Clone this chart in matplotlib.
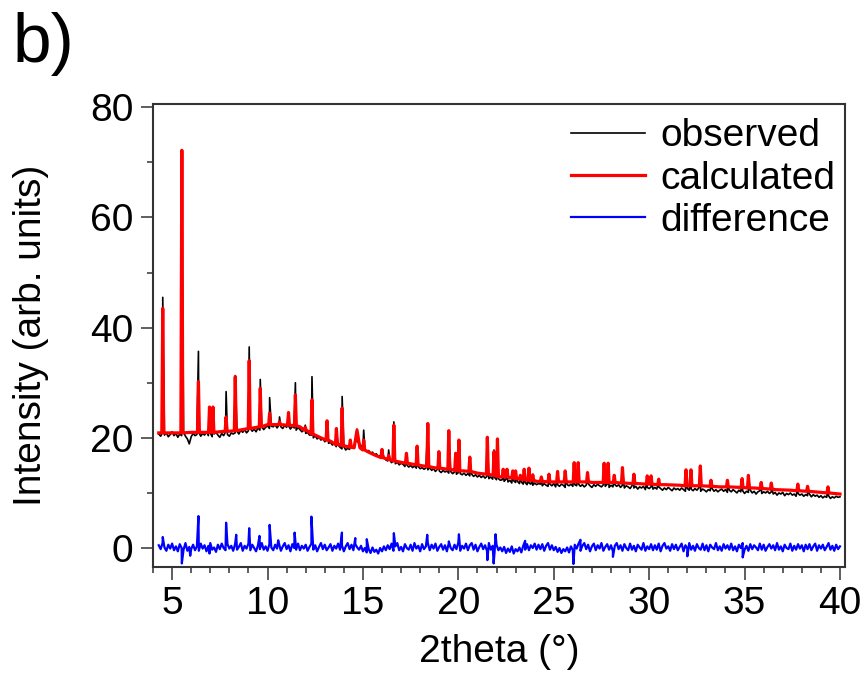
import numpy as np
import matplotlib.pyplot as plt
from matplotlib.ticker import MultipleLocator

plt.rcParams["font.family"] = ["Liberation Sans", "DejaVu Sans"]

# observed counts on the 0.1 deg scan grid starting at 4.3 deg (20 steps per row)
scan_start = 4.3
scan_step = 0.1
obs_counts = [
    20.7, 20.3, 21.0, 20.5, 20.9, 20.2, 20.6, 21.1, 20.4, 20.8, 20.1, 20.7, 20.4, 21.0, 20.3, 19.8, 18.9, 20.2, 20.8, 20.4,
    20.6, 21.0, 20.3, 20.8, 20.5, 21.1, 20.4, 20.9, 20.2, 20.7, 21.0, 20.5, 20.1, 20.8, 20.4, 21.1, 20.6, 20.3, 20.9, 20.7,
    20.9, 21.2, 20.7, 21.4, 21.0, 21.5, 20.9, 21.3, 21.7, 21.2, 21.6, 21.1, 21.8, 21.4, 22.0, 21.5, 21.9, 22.2, 21.7, 22.1,
    22.0, 22.4, 21.8, 22.3, 22.0, 21.7, 22.3, 21.9, 22.2, 21.6, 22.1, 21.8, 21.4, 21.9, 21.5, 21.1, 21.4, 20.8, 21.0, 20.5,
    20.5, 20.0, 20.4, 19.8, 20.1, 19.6, 19.9, 19.3, 19.6, 19.0, 19.2, 18.7, 19.0, 18.4, 18.7, 18.3, 18.0, 18.4, 17.8, 18.1,
    17.9, 18.2, 18.5, 19.1, 19.4, 19.0, 18.6, 18.1, 17.9, 17.5, 17.7, 17.2, 17.4, 16.9, 17.1, 16.6, 16.8, 16.3, 16.5, 16.0,
    15.8, 16.0, 15.5, 15.8, 15.3, 15.6, 15.1, 15.4, 15.2, 14.8, 15.1, 14.7, 15.0, 14.6, 14.9, 14.5, 14.8, 14.4, 14.6, 14.3,
    14.5, 14.2, 14.6, 14.1, 14.4, 13.9, 14.3, 14.0, 13.7, 14.1, 13.8, 14.0, 13.6, 13.9, 13.5, 13.8, 13.4, 13.7, 13.5, 13.3,
    13.6, 13.2, 13.5, 13.1, 13.4, 13.0, 13.3, 12.9, 13.2, 12.8, 13.1, 12.7, 13.0, 12.6, 12.9, 12.5, 12.8, 12.4, 12.6, 12.3,
    12.4, 12.1, 12.5, 12.0, 12.3, 11.8, 12.2, 11.9, 12.1, 11.7, 12.0, 11.6, 11.9, 11.5, 11.8, 11.6, 11.4, 11.8, 11.5, 11.7,
    11.6, 11.3, 11.7, 11.4, 11.2, 11.6, 11.3, 11.7, 11.1, 11.5, 11.2, 11.6, 11.4, 11.0, 11.5, 11.3, 11.6, 11.2, 11.5, 11.3,
    11.6, 11.2, 11.5, 11.1, 11.4, 11.7, 11.3, 11.0, 11.5, 11.2, 11.6, 11.3, 11.1, 11.5, 11.2, 11.6, 11.0, 11.4, 11.1, 11.5,
    11.2, 11.5, 11.0, 11.4, 10.9, 11.3, 11.1, 10.8, 11.3, 10.9, 11.2, 10.7, 11.1, 10.9, 11.2, 10.6, 11.0, 10.8, 11.1, 10.7,
    11.0, 10.7, 11.1, 10.8, 10.5, 10.9, 10.6, 11.0, 10.7, 10.4, 10.9, 10.6, 10.8, 10.5, 10.9, 10.6, 10.3, 10.8, 10.5, 10.7,
    10.4, 10.8, 10.5, 10.9, 10.3, 10.7, 10.5, 10.2, 10.6, 10.4, 10.8, 10.3, 10.6, 10.2, 10.5, 10.7, 10.3, 10.6, 10.1, 10.5,
    10.2, 10.6, 10.3, 10.0, 10.5, 10.2, 10.4, 9.9, 10.3, 10.1, 10.5, 10.0, 10.3, 9.8, 10.2, 10.4, 9.9, 10.2, 10.0, 10.3,
    9.9, 10.2, 9.8, 10.1, 9.6, 10.0, 9.8, 10.1, 9.5, 9.9, 9.7, 10.0, 9.6, 9.8, 9.4, 9.9, 9.6, 9.8, 9.4, 9.7,
    9.5, 9.8, 9.3, 9.7, 9.4, 9.6, 9.2, 9.5, 9.1, 9.4, 9.2, 9.5, 9.0, 9.3, 9.1, 9.4, 9.2, 9.3,
]

# obs - calc on the same grid
diff_counts = [
    0.5, -0.2, 0.9, 0.1, -0.5, 0.6, -0.1, 0.8, -0.4, 0.3, -0.6, 0.7, 0.0, -0.3, 0.9, -0.5, 0.2, -0.2, 0.6, -0.4,
    0.3, -0.5, 0.8, -0.1, 0.5, -0.6, 0.4, 0.9, -0.3, 0.1, -0.7, 0.6, -0.2, 0.8, 0.0, -0.4, 0.7, -0.1, 0.4, -0.5,
    0.7, -0.3, 0.2, 0.9, -0.5, 0.4, -0.1, 0.8, -0.4, 0.6, 0.0, -0.6, 0.5, -0.2, 0.9, -0.3, 0.3, -0.5, 0.7, 0.1,
    -0.4, 0.6, -0.1, 0.8, -0.5, 0.3, 0.9, -0.2, 0.5, -0.6, 0.7, 0.0, -0.3, 0.8, -0.4, 0.4, -0.1, 0.6, -0.5, 0.2,
    0.8, -0.3, 0.5, -0.6, 0.2, 0.9, -0.2, 0.6, -0.4, 0.1, 0.7, -0.5, 0.4, -0.1, 0.8, -0.3, 0.5, -0.6, 0.3, 0.9,
    -0.2, 0.6, -0.4, 0.7, 0.1, -0.3, 0.4, -0.6, 0.0, -0.8, -0.2, -0.9, 0.1, -0.7, -0.3, -1.0, 0.0, -0.6, 0.3, -0.4,
    0.5, -0.2, 0.8, -0.5, 0.3, 0.9, -0.4, 0.2, -0.6, 0.7, 0.0, -0.3, 0.6, -0.5, 0.9, -0.1, 0.4, -0.6, 0.7, -0.2,
    0.3, 0.9, -0.4, 0.6, -0.1, 0.8, -0.5, 0.2, 0.7, -0.3, 0.5, -0.6, 0.9, 0.0, -0.4, 0.6, -0.2, 1.0, -0.5, 0.4,
    -0.1, 0.8, -0.4, 0.5, 0.9, -0.3, 0.6, -0.6, 0.2, 0.8, -0.2, 0.5, -0.5, 0.9, -0.3, 0.4, -0.7, 0.6, -0.4, 0.1,
    -0.6, 0.2, -0.9, -0.1, -0.7, 0.3, -1.0, -0.2, -0.6, 0.1, -0.8, 0.4, -0.3, 0.7, -0.4, 0.5, 0.0, 0.8, -0.3, 0.6,
    -0.2, 0.7, -0.5, 0.4, 0.9, -0.3, 0.5, -0.4, 0.2, -0.7, 0.0, -0.9, -0.2, -0.6, 0.1, -0.8, 0.3, -0.4, 0.6, -0.1,
    0.8, -0.5, 0.4, 0.9, -0.2, 0.6, -0.6, 0.3, 0.8, -0.4, 0.5, -0.1, 0.9, -0.5, 0.2, 0.7, -0.3, 0.5, -0.6, 0.4,
    0.9, -0.2, 0.5, -0.5, 0.7, 0.0, -0.4, 0.8, -0.3, 0.4, -0.6, 0.6, 0.1, -0.3, 0.9, -0.5, 0.3, -0.2, 0.7, -0.4,
    0.5, -0.3, 0.8, -0.6, 0.4, 0.9, -0.1, 0.3, -0.5, 0.7, -0.2, 0.6, -0.4, 0.2, 0.8, -0.6, 0.5, -0.1, 0.9, -0.3,
    0.4, -0.5, 0.7, 0.0, -0.3, 0.8, -0.4, 0.5, -0.6, 0.6, 0.1, -0.2, 0.9, -0.4, 0.3, -0.5, 0.7, -0.1, 0.5, -0.3,
    0.8, -0.4, 0.3, -0.6, 0.6, 0.0, 0.9, -0.3, 0.4, -0.5, 0.7, -0.2, 0.5, 0.1, -0.4, 0.8, -0.3, 0.6, -0.5, 0.2,
    0.7, -0.1, 0.5, -0.4, 0.9, -0.3, 0.3, -0.6, 0.6, 0.0, -0.2, 0.8, -0.5, 0.4, -0.3, 0.7, -0.1, 0.5, -0.6, 0.6,
    -0.2, 0.7, -0.4, 0.3, 0.8, -0.5, 0.5, -0.1, 0.6, -0.4, 0.2, 0.9, -0.3, 0.4, -0.5, 0.6, -0.2, 0.3,
]

# refined background of the calculated pattern
bg_pos = [4.3, 5.0, 6.0, 6.7, 7.5, 8.0, 8.7, 10.0, 11.0, 11.7, 12.2, 12.8,
          13.35, 13.8, 14.2, 15.3, 15.6, 16.8, 17.1, 18.0, 18.7, 19.7, 20.3,
          21.0, 22.2, 23.1, 24.1, 25.0, 27.0, 28.0, 29.4, 30.8, 31.6, 33.7,
          35.5, 36.6, 37.4, 39.0, 40.0]
bg_val = [20.9, 20.9, 21.0, 21.0, 21.1, 21.2, 21.5, 22.4, 22.3, 22.0, 21.0, 20.0,
          19.3, 18.7, 18.4, 17.4, 16.9, 15.7, 15.5, 15.0, 14.6, 14.2, 14.0,
          13.6, 12.9, 12.6, 12.1, 12.0, 11.9, 11.9, 11.7, 11.5, 11.4, 11.1,
          10.9, 10.6, 10.5, 10.1, 9.8]

# reflections: position, background below, calculated top, observed top
peak_pos = [4.51, 5.51, 6.38, 6.96, 7.14, 7.83, 8.31, 9.04, 9.62, 10.11,
            10.63, 11.10, 11.46, 11.98, 12.33, 13.12, 13.61, 13.91, 14.34,
            14.69, 15.04, 16.00, 16.35, 16.62, 17.28, 17.84, 18.40, 18.98,
            19.50, 19.86, 20.03, 20.60, 21.52, 21.87, 22.05, 22.35, 22.55,
            22.85, 23.00, 23.25, 23.45, 23.70, 23.90, 24.35, 24.75, 25.20,
            25.60, 26.07, 26.28, 26.77, 27.64, 27.85, 28.17, 28.60, 29.20,
            29.90, 30.10, 30.50, 31.93, 32.19, 32.68, 33.24, 34.10, 34.87,
            35.20, 35.87, 36.40, 37.79, 38.30, 39.37]
peak_base = [20.9, 20.9, 21.0, 21.0, 21.0, 21.2, 21.3, 21.7, 22.0, 22.4,
             22.4, 22.3, 22.2, 21.4, 20.7, 19.6, 18.8, 18.6, 18.3,
             18.2, 17.8, 16.4, 16.1, 15.8, 15.4, 15.1, 14.8, 14.5,
             14.3, 14.1, 14.0, 13.9, 13.4, 13.2, 13.0, 12.9, 12.9,
             12.7, 12.6, 12.5, 12.4, 12.3, 12.3, 12.1, 12.0, 12.0,
             12.0, 12.0, 12.0, 12.0, 11.9, 11.9, 11.9, 11.8, 11.7,
             11.6, 11.6, 11.5, 11.3, 11.3, 11.3, 11.2, 11.1, 11.0,
             10.9, 10.8, 10.7, 10.4, 10.3, 10.0]
peak_calc = [43.5, 72.2, 30.2, 25.6, 25.6, 23.8, 31.1, 34.0, 29.0, 24.5,
             22.9, 24.6, 27.8, 21.9, 26.9, 23.1, 21.7, 25.4, 19.6,
             21.4, 19.6, 17.9, 16.8, 22.3, 17.2, 18.5, 22.6, 17.5,
             21.3, 17.2, 19.6, 16.5, 20.1, 17.5, 19.8, 14.3, 14.3,
             14.0, 14.0, 13.2, 14.3, 14.5, 13.3, 12.9, 13.4, 13.9,
             14.0, 15.5, 15.5, 13.7, 15.4, 15.4, 13.2, 14.6, 13.4,
             13.1, 13.1, 12.5, 14.2, 14.2, 14.9, 12.3, 12.3, 12.6,
             13.2, 11.9, 11.8, 11.6, 11.2, 11.1]
peak_obs = [45.5, 69.5, 35.7, 25.0, 25.3, 28.4, 31.3, 36.5, 30.6, 27.3,
            23.8, 24.2, 30.0, 22.3, 31.1, 22.8, 21.5, 27.5, 19.4,
            21.6, 21.4, 17.6, 17.8, 22.9, 16.9, 18.2, 22.4, 17.3,
            21.0, 17.0, 19.4, 16.3, 19.0, 17.8, 19.4, 13.9, 13.8,
            13.5, 13.6, 12.7, 13.9, 14.0, 12.8, 12.4, 12.9, 13.4,
            13.6, 15.0, 15.1, 13.2, 15.0, 14.9, 12.7, 14.1, 12.9,
            12.6, 12.6, 12.0, 13.7, 13.8, 14.4, 11.8, 11.8, 12.1,
            12.7, 11.4, 11.3, 11.1, 10.7, 10.6]

# sharp misfits in the difference curve
spike_pos = [4.51, 5.51, 5.95, 6.38, 6.96, 7.83, 8.36, 9.04, 9.58, 10.11,
             10.56, 11.42, 12.30, 13.90, 14.60, 15.20, 16.62, 18.37, 19.50,
             20.03, 21.52, 21.85, 21.95, 23.50, 26.03, 26.40, 28.10, 32.00,
             34.90]
spike_val = [2.0, -2.8, -1.4, 5.8, -1.0, 4.6, 2.4, 3.6, 2.2, 4.2,
             1.4, 2.8, 5.7, 2.8, 1.8, 1.6, 2.7, 2.4, 1.2,
             2.5, -2.2, -2.8, 2.5, 1.3, -2.9, 1.5, -1.6, -1.5,
             -1.7]


def merge_sorted(x_parts, y_parts):
    x = np.concatenate([np.asarray(p, float) for p in x_parts])
    y = np.concatenate([np.asarray(p, float) for p in y_parts])
    order = np.argsort(x, kind="stable")
    return x[order], y[order]


def main():
    scan = scan_start + scan_step * np.arange(len(obs_counts))
    pk = np.asarray(peak_pos)

    # half width of a calculated reflection; the 14.7 deg hump is broader
    hw = np.where(np.isclose(pk, 14.69), 0.15, 0.05)

    # leave out background knots that fall inside a reflection
    bx = np.asarray(bg_pos)
    inside = np.any(np.abs(bx[:, None] - pk[None, :]) < hw[None, :], axis=1)
    calc_x, calc_y = merge_sorted(
        [bx[~inside], pk - hw, pk, pk + hw],
        [np.asarray(bg_val)[~inside], peak_base, peak_calc, peak_base],
    )
    obs_x, obs_y = merge_sorted([scan, pk], [obs_counts, peak_obs])
    diff_x, diff_y = merge_sorted([scan, spike_pos], [diff_counts, spike_val])

    fig = plt.figure(figsize=(8.66, 6.83), dpi=100)
    ax = fig.add_axes([0.1767, 0.1698, 0.799, 0.6779])

    ax.plot(obs_x, obs_y, color="black", lw=1.2, label="observed")
    ax.plot(calc_x, calc_y, color="#ff0000", lw=2.3, label="calculated")
    ax.plot(diff_x, diff_y, color="#0000ff", lw=1.6, label="difference")

    ax.set_xlim(4.0, 40.26)
    ax.set_ylim(-3.45, 80.6)
    ax.xaxis.set_major_locator(MultipleLocator(5))
    ax.xaxis.set_minor_locator(MultipleLocator(1))
    ax.yaxis.set_major_locator(MultipleLocator(20))
    ax.yaxis.set_minor_locator(MultipleLocator(10))
    ax.tick_params(which="major", length=9, width=1.1, labelsize=28,
                   color="#333333", pad=5)
    ax.tick_params(which="minor", length=4.5, width=1.1, color="#333333")
    for sp in ax.spines.values():
        sp.set_linewidth(1.5)
        sp.set_color("#333333")

    ax.set_xlabel("2theta (°)", fontsize=28, labelpad=8)
    ax.set_ylabel("Intensity (arb. units)", fontsize=28, labelpad=30)

    ax.legend(loc="upper right", bbox_to_anchor=(1.0, 0.99), fontsize=28,
              frameon=False, handlelength=1.9, handletextpad=0.4,
              labelspacing=0.16, borderpad=0.1, borderaxespad=0.15)

    fig.text(0.014, 0.982, "b)", fontsize=50, va="top", ha="left")

    fig.savefig("out.png", dpi=100)


if __name__ == "__main__":
    main()
